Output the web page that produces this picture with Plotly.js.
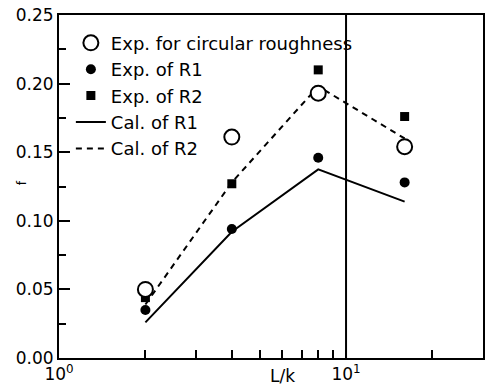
<!DOCTYPE html>
<html>
<head>
<meta charset="utf-8">
<script src="https://cdn.plot.ly/plotly-3.0.1.min.js"></script>
<style>html,body{margin:0;padding:0;background:#fff;}#chart{width:487px;height:388px;}</style>
</head>
<body>
<div id="chart"></div>
<script>
// Data
var Lk = [2, 4, 8, 16];
var expCircular = [0.050, 0.161, 0.193, 0.154];
var expR1 = [0.035, 0.094, 0.146, 0.128];
var expR2 = [0.044, 0.127, 0.210, 0.176];
var calR1 = [0.026, 0.092, 0.1375, 0.114];
var calR2 = [0.039, 0.128, 0.198, 0.160];

var xTickVals = [1, 10];
var xTickText = ['10<sup>0</sup>', '10<sup>1</sup>'];
var xMinorVals = [2, 3, 4, 5, 6, 7, 8, 9, 20];
var yTickVals = [0, 0.05, 0.10, 0.15, 0.20, 0.25];
var yTickText = ['0.00', '0.05', '0.10', '0.15', '0.20', '0.25'];

var FONT = 'DejaVu Sans, Arial, sans-serif';

var traces = [
  {x: Lk, y: calR1, mode: 'lines', name: 'Cal. of R1', legendrank: 4,
   line: {color: '#000', width: 2}},
  {x: Lk, y: calR2, mode: 'lines', name: 'Cal. of R2', legendrank: 5,
   line: {color: '#000', width: 2, dash: '6px,5px'}},
  {x: Lk, y: expR1, mode: 'markers', name: 'Exp. of R1', legendrank: 2,
   marker: {symbol: 'circle', size: 10, color: '#000'}},
  {x: Lk, y: expR2, mode: 'markers', name: 'Exp. of R2', legendrank: 3,
   marker: {symbol: 'square', size: 9, color: '#000'}},
  {x: Lk, y: expCircular, mode: 'markers', name: 'Exp. for circular roughness', legendrank: 1,
   marker: {symbol: 'circle', size: 15, color: '#fff', line: {color: '#000', width: 2}}}
];

var layout = {
  width: 487, height: 388,
  margin: {l: 59, r: 4, t: 15, b: 30, pad: 0},
  paper_bgcolor: '#fff', plot_bgcolor: '#fff',
  font: {family: FONT, size: 17, color: '#000'},
  showlegend: true,
  legend: {x: 0.028, y: 0.972, xanchor: 'left', yanchor: 'top',
           bgcolor: 'rgba(0,0,0,0)', borderwidth: 0,
           font: {family: FONT, size: 18, color: '#000'}, itemwidth: 30},
  xaxis: {type: 'log', range: [0, Math.log10(30)], showgrid: false, zeroline: false,
          showline: true, linecolor: '#000', linewidth: 2, mirror: true,
          tickmode: 'array', tickvals: xTickVals, ticktext: xTickText,
          ticks: 'inside', ticklen: 8, tickwidth: 2, tickcolor: '#000',
          minor: {tickmode: 'array', tickvals: xMinorVals, ticks: 'inside', ticklen: 8,
                  tickwidth: 2, tickcolor: '#000', showgrid: false},
          tickfont: {family: FONT, size: 17}},
  yaxis: {range: [0, 0.25], showgrid: false, zeroline: false,
          showline: true, linecolor: '#000', linewidth: 2, mirror: true,
          tickmode: 'array', tickvals: yTickVals, ticktext: yTickText,
          ticks: 'inside', ticklen: 11, tickwidth: 2, tickcolor: '#000',
          minor: {dtick: 0.025, ticks: 'inside', ticklen: 7, tickwidth: 2, tickcolor: '#000', showgrid: false},
          tickfont: {family: FONT, size: 17}},
  shapes: [
    {type: 'line', xref: 'x', yref: 'paper', x0: 10, x1: 10, y0: 0, y1: 1,
     line: {color: '#000', width: 2}}
  ],
  annotations: [
    {text: 'L/k', xref: 'paper', yref: 'paper', x: 0.526, y: -0.052,
     xanchor: 'center', yanchor: 'middle', showarrow: false,
     font: {family: FONT, size: 17, color: '#000'}},
    {text: 'f', xref: 'paper', yref: 'paper', x: -0.087, y: 0.51,
     xanchor: 'center', yanchor: 'middle', showarrow: false, textangle: -90,
     font: {family: FONT, size: 12, color: '#000'}}
  ]
};

Plotly.newPlot('chart', traces, layout, {staticPlot: true, displayModeBar: false});
</script>
</body>
</html>
